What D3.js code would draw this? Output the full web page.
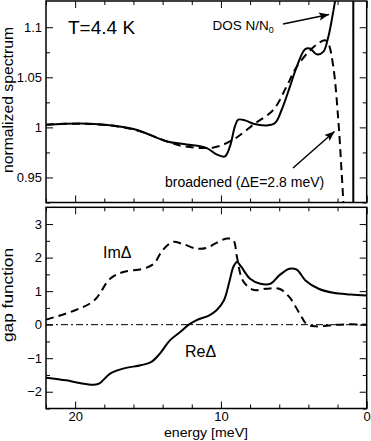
<!DOCTYPE html>
<html>
<head>
<meta charset="utf-8">
<script src="https://cdn.jsdelivr.net/npm/d3@7"></script>
<style>
body { margin: 0; background: #fff; }
svg text { font-family: "Liberation Sans", Arial, sans-serif; fill: #000; }
.ax path, .ax line { stroke: #000; }
</style>
</head>
<body>
<div id="chart"></div>
<script>
// energy in meV
var dosE   = [22, 19.0, 16.0, 13.7, 12.35, 11.0, 10.3, 9.73, 9.38, 9.04, 8.81, 8.35, 7.78, 6.86, 6.29, 5.83, 5.26, 4.8, 4.23, 3.89, 3.43, 2.98, 2.64, 2.4, 2.17];
var dosV   = [1.0027, 1.0037, 0.9984, 0.986, 0.983, 0.9796, 0.973, 0.971, 0.981, 1.001, 1.0077, 1.007, 1.0037, 1.002, 1.0044, 1.0176, 1.041, 1.0605, 1.078, 1.0788, 1.073, 1.0754, 1.09, 1.107, 1.126];
var brdE   = [22, 19.0, 16.0, 13.7, 12.5, 10.5, 9.15, 7.78, 6.4, 5.49, 4.8, 3.66, 2.86, 2.63, 2.29, 1.95, 1.72, 1.6];
var brdV   = [1.0027, 1.0035, 0.998, 0.986, 0.981, 0.98, 0.9878, 1.0027, 1.0176, 1.041, 1.0605, 1.08, 1.087, 1.0837, 1.0605, 1.0077, 0.955, 0.925];
var gapEdge = 0.92;

var imE = [22, 20, 18.7, 17.6, 16.7, 15.3, 14.6, 14.0, 13.3, 12.7, 11.7, 11.0, 10.3, 9.6, 9.15, 8.9, 8.5, 7.8, 6.9, 6.0, 5.3, 4.6, 4.1, 3.5, 2.3, 1.1, 0];
var imV = [0.15, 0.43, 0.72, 1.37, 1.57, 1.67, 1.82, 2.22, 2.47, 2.42, 2.27, 2.29, 2.44, 2.57, 2.52, 2.02, 1.32, 1.04, 1.07, 1.07, 0.82, 0.33, 0.01, -0.05, -0.01, 0.01, 0];
var reE = [22, 20.6, 19.7, 18.7, 18.3, 17.6, 16.7, 15.5, 14.8, 14.2, 13.5, 12.8, 12.2, 11.7, 10.8, 10.3, 9.8, 9.4, 9.15, 8.9, 8.6, 8.0, 7.3, 6.6, 6.0, 5.3, 4.8, 4.2, 3.3, 2.3, 1.1, 0];
var reV = [-1.58, -1.66, -1.74, -1.79, -1.74, -1.46, -1.31, -1.21, -1.12, -0.87, -0.47, -0.22, 0, 0.13, 0.28, 0.43, 0.72, 1.32, 1.72, 1.87, 1.72, 1.37, 1.22, 1.22, 1.47, 1.67, 1.64, 1.32, 1.07, 0.95, 0.9, 0.87];

var xTicks = [20, 10, 0];
var xMinor = [22, 18, 16, 14, 12, 8, 6, 4, 2];
var yTopTicks = [0.95, 1, 1.05, 1.1];
var yTopMinor = [0.925, 0.975, 1.025, 1.075];
var yBotTicks = [-2, -1, 0, 1, 2, 3];
var yBotMinor = [-2.5, -1.5, -0.5, 0.5, 1.5, 2.5];

var W = 371, H = 441;
var svg = d3.select("#chart").append("svg").attr("width", W).attr("height", H);

var L = 46, R = 366.7;
var x = d3.scaleLinear().domain([22, 0]).range([L, R]);
var yT = d3.scaleLinear().domain([0.925, 1.1262]).range([202.5, 1]);
var yB = d3.scaleLinear().domain([-2.5, 3.5]).range([408.5, 207.3]);

var defs = svg.append("defs");
defs.append("marker").attr("id", "arr").attr("viewBox", "0 0 10 10")
  .attr("refX", 10).attr("refY", 5).attr("markerWidth", 10).attr("markerHeight", 10)
  .attr("markerUnits", "userSpaceOnUse").attr("orient", "auto")
  .append("path").attr("d", "M0,1 L10,5 L0,9 L2,5 Z").attr("fill", "#000");

function fmt(d) { return d3.format("")(d); }

function axes(y, major, minor, labelsX) {
  var g = svg.append("g");
  var top = y.range()[1], bot = y.range()[0];
  // x ticks
  [[d3.axisBottom, bot], [d3.axisTop, top]].forEach(function (p) {
    g.append("g").attr("class", "ax").attr("transform", "translate(0," + p[1] + ")")
      .call(p[0](x).tickValues(xTicks).tickSize(-7).tickPadding(3.5)
        .tickFormat((labelsX && p[1] == bot) ? d3.format("d") : ""))
      .call(function (s) { s.select(".domain").remove(); s.selectAll("text").attr("font-size", 13); });
    g.append("g").attr("class", "ax").attr("transform", "translate(0," + p[1] + ")")
      .call(p[0](x).tickValues(xMinor).tickSize(-4).tickFormat(""))
      .call(function (s) { s.select(".domain").remove(); });
  });
  // y ticks
  [[d3.axisLeft, L], [d3.axisRight, R]].forEach(function (p) {
    g.append("g").attr("class", "ax").attr("transform", "translate(" + p[1] + ",0)")
      .call(p[0](y).tickValues(major).tickSize(-7).tickPadding(4)
        .tickFormat(p[1] == L ? fmt : ""))
      .call(function (s) { s.select(".domain").remove(); s.selectAll("text").attr("font-size", 13); });
    g.append("g").attr("class", "ax").attr("transform", "translate(" + p[1] + ",0)")
      .call(p[0](y).tickValues(minor).tickSize(-4).tickFormat(""))
      .call(function (s) { s.select(".domain").remove(); });
  });
  g.append("rect").attr("x", L).attr("y", top).attr("width", R - L).attr("height", bot - top)
    .attr("fill", "none").attr("stroke", "#000").attr("stroke-width", 1.5);
}

function curve(E, V, y, dash) {
  var pts = E.map(function (e, i) { return [x(e), y(V[i])]; });
  svg.append("path").attr("d", d3.line().curve(d3.curveCatmullRom.alpha(0.5))(pts))
    .attr("fill", "none").attr("stroke", "#000").attr("stroke-width", 2)
    .attr("stroke-dasharray", dash || null);
}

// upper panel
var clipT = defs.append("clipPath").attr("id", "clipT");
clipT.append("rect").attr("x", L).attr("y", yT.range()[1]).attr("width", R - L).attr("height", yT.range()[0] - yT.range()[1]);
var up = svg.append("g").attr("clip-path", "url(#clipT)");
(function () {
  var saved = svg; svg = up;
  curve(brdE, brdV, yT, "8,5");
  curve(dosE, dosV, yT);
  svg.append("line").attr("x1", x(gapEdge)).attr("x2", x(gapEdge))
    .attr("y1", yT.range()[0]).attr("y2", yT.range()[1])
    .attr("stroke", "#000").attr("stroke-width", 2);
  svg = saved;
})();
axes(yT, yTopTicks, yTopMinor, false);

svg.append("text").attr("x", 68).attr("y", 33.5).attr("font-size", 19).text("T=4.4 K");
var dos = svg.append("text").attr("x", 212.5).attr("y", 30).attr("font-size", 13.5).text("DOS N/N");
dos.append("tspan").attr("font-size", 9).attr("dy", 3).text("0");
svg.append("line").attr("x1", 283).attr("y1", 24).attr("x2", 329).attr("y2", 14.5)
  .attr("stroke", "#000").attr("stroke-width", 1.5).attr("marker-end", "url(#arr)");
svg.append("text").attr("x", 165).attr("y", 187).attr("font-size", 14).text("broadened (\u0394E=2.8 meV)");
svg.append("line").attr("x1", 293).attr("y1", 168).attr("x2", 334.5).attr("y2", 131.5)
  .attr("stroke", "#000").attr("stroke-width", 1.5).attr("marker-end", "url(#arr)");

// lower panel
svg.append("line").attr("x1", L).attr("x2", R).attr("y1", yB(0)).attr("y2", yB(0))
  .attr("stroke", "#000").attr("stroke-width", 1).attr("stroke-dasharray", "7,3,2,3");
curve(imE, imV, yB, "8,5");
curve(reE, reV, yB);
axes(yB, yBotTicks, yBotMinor, true);

svg.append("text").attr("x", 103).attr("y", 258.3).attr("font-size", 16).text("Im\u0394");
svg.append("text").attr("x", 185).attr("y", 356.7).attr("font-size", 16).text("Re\u0394");

svg.append("text").attr("x", 206).attr("y", 436.5).attr("text-anchor", "middle")
  .attr("font-size", 13.5).attr("textLength", 84).attr("lengthAdjust", "spacingAndGlyphs")
  .text("energy [meV]");
svg.append("text").attr("transform", "translate(12.5,100) rotate(-90)")
  .attr("text-anchor", "middle").attr("font-size", 14)
  .attr("textLength", 146).attr("lengthAdjust", "spacingAndGlyphs").text("normalized spectrum");
svg.append("text").attr("transform", "translate(12.5,295) rotate(-90)")
  .attr("text-anchor", "middle").attr("font-size", 14)
  .attr("textLength", 94).attr("lengthAdjust", "spacingAndGlyphs").text("gap function");
</script>
</body>
</html>
